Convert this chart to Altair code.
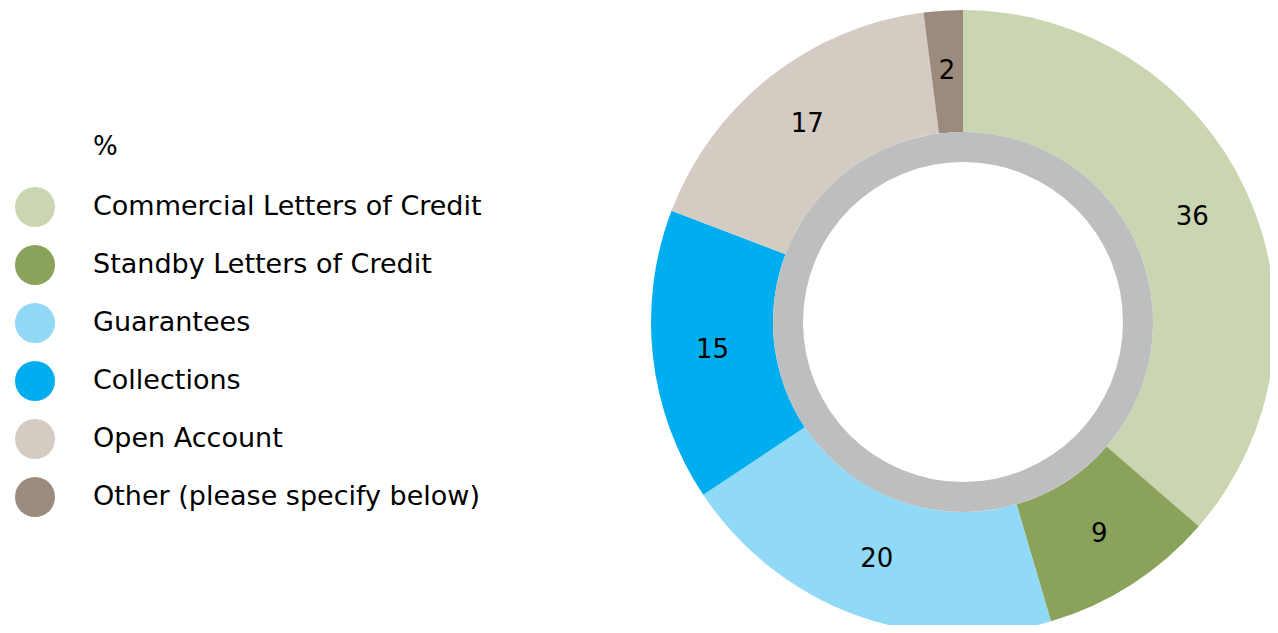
import altair as alt
import pandas as pd

categories = [
    "Commercial Letters of Credit",
    "Standby Letters of Credit",
    "Guarantees",
    "Collections",
    "Open Account",
    "Other (please specify below)",
]
values = [36, 9, 20, 15, 17, 2]
colors = ["#CAD5B1", "#8AA259", "#90D9F7", "#00AEEF", "#D4CBC2", "#9C8B7C"]
ring_color = "#BDBEC0"
legend_title = "%"

df = pd.DataFrame({
    "category": categories,
    "value": values,
    "idx": list(range(len(categories))),
})

FONT = "DejaVu Sans"
CX, CY = 955, 314

base = alt.Chart(df).encode(
    theta=alt.Theta("value:Q", stack=True),
    order=alt.Order("idx:Q"),
)

arcs = base.mark_arc(radius=312, radius2=190).encode(
    x=alt.value(CX),
    y=alt.value(CY),
    color=alt.Color(
        "category:N",
        scale=alt.Scale(domain=categories, range=colors),
        sort=categories,
        legend=alt.Legend(
            title=None,
            orient="none",
            legendX=7,
            legendY=179,
            padding=0,
            symbolType="circle",
            symbolSize=1600,
            symbolStrokeWidth=0,
            symbolOpacity=1,
            labelFont=FONT,
            labelFontSize=27,
            labelColor="#000000",
            labelOffset=38,
            labelLimit=600,
            rowPadding=18,
        ),
    ),
)

labels = base.mark_text(radius=252, font=FONT, fontSize=26, color="#000000").encode(
    x=alt.value(CX),
    y=alt.value(CY),
    text=alt.Text("value:Q"),
)

ring_df = pd.DataFrame({"k": [1]})
ring = alt.Chart(ring_df).mark_arc(
    radius=190, radius2=160, theta=0, theta2=6.283185307179586, color=ring_color
).encode(x=alt.value(CX), y=alt.value(CY))

title_df = pd.DataFrame({"t": [legend_title]})
title = alt.Chart(title_df).mark_text(
    font=FONT, fontSize=26, color="#000000", align="left", baseline="middle"
).encode(x=alt.value(85), y=alt.value(139), text="t:N")

chart = alt.layer(arcs, ring, labels, title).properties(
    width=1262,
    height=617,
    autosize=alt.AutoSizeParams(type="none"),
    padding=0,
    background="#FFFFFF",
).configure_view(stroke=None)

chart.save("out.html", embed_options={"renderer": "svg", "actions": False})
